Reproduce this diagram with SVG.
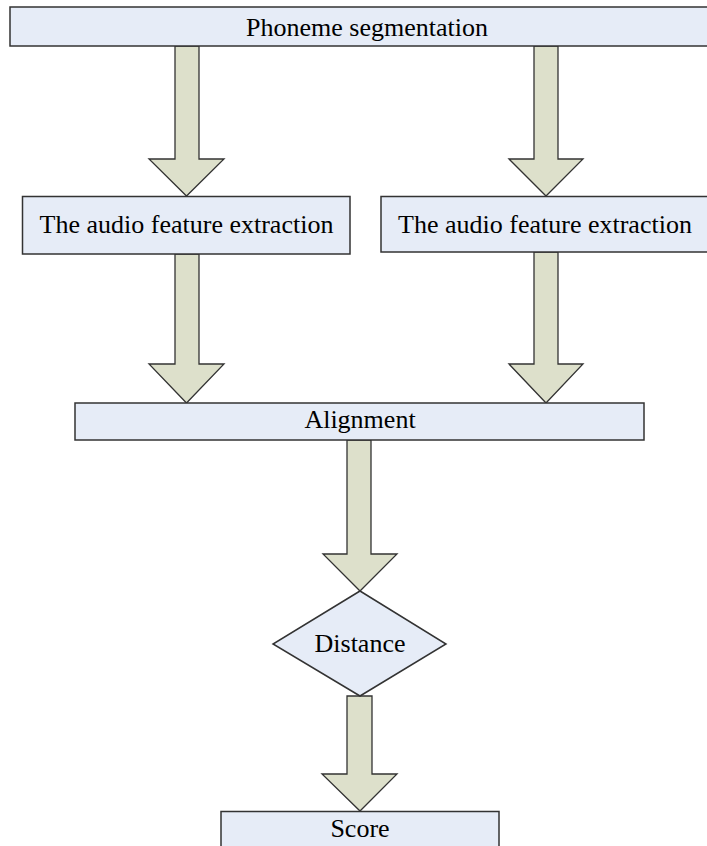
<svg xmlns="http://www.w3.org/2000/svg" width="707" height="846" viewBox="0 0 707 846">
  <style>
    .box { fill: #E6ECF7; stroke: #333333; stroke-width: 1.5; }
    .arrow { fill: #DDE0CB; stroke: #333333; stroke-width: 1.3; stroke-linejoin: miter; }
    .label { font-family: "Liberation Serif", "Times New Roman", serif; font-size: 26px; fill: #000000; text-anchor: middle; }
  </style>
  <rect width="707" height="846" fill="#FFFFFF"/>

  <!-- block arrows -->
  <g id="connectors">
    <path class="arrow" d="M175,46 L199,46 L199,159 L224,159 L186.5,196 L149,159 L175,159 Z"/>
    <path class="arrow" d="M534,46 L558,46 L558,159 L583,159 L546,196 L509,159 L534,159 Z"/>
    <path class="arrow" d="M175,254 L199,254 L199,364 L224,364 L186.5,403 L149,364 L175,364 Z"/>
    <path class="arrow" d="M534,252 L558,252 L558,364 L583,364 L546,403 L509,364 L534,364 Z"/>
    <path class="arrow" d="M347,440 L371,440 L371,554 L397,554 L360,591 L323,554 L347,554 Z"/>
    <path class="arrow" d="M347,696 L372,696 L372,774 L397,774 L360,811 L322,774 L347,774 Z"/>
  </g>

  <g id="phoneme-segmentation">
    <rect class="box" x="10" y="7" width="700" height="39"/>
    <text class="label" x="367" y="36">Phoneme segmentation</text>
  </g>

  <g id="feature-extraction-left">
    <rect class="box" x="22.5" y="196.5" width="327.5" height="57.5"/>
    <text class="label" x="186.5" y="233">The audio feature extraction</text>
  </g>

  <g id="feature-extraction-right">
    <rect class="box" x="381" y="196.5" width="330" height="55.5"/>
    <text class="label" x="545" y="233">The audio feature extraction</text>
  </g>

  <g id="alignment">
    <rect class="box" x="75" y="403" width="569" height="37"/>
    <text class="label" x="360" y="428">Alignment</text>
  </g>

  <g id="distance">
    <polygon class="box" points="360,591 446,644 360,696 273,644"/>
    <text class="label" x="360" y="652">Distance</text>
  </g>

  <g id="score">
    <rect class="box" x="221" y="811.5" width="278" height="50"/>
    <text class="label" x="360" y="837">Score</text>
  </g>
</svg>
